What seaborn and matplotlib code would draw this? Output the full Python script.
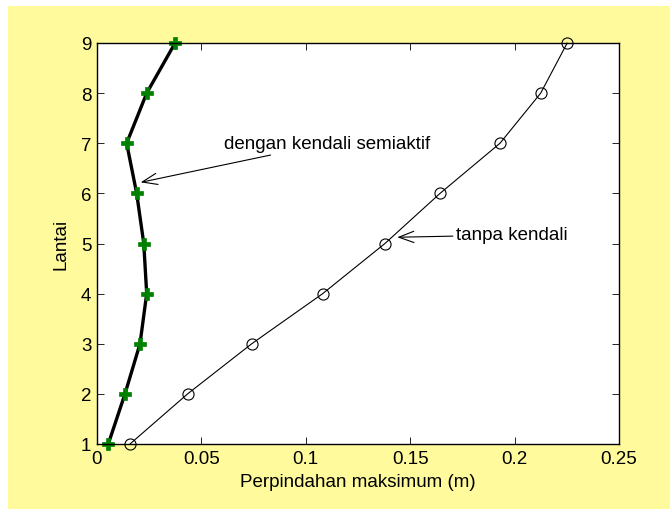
import matplotlib
matplotlib.use("Agg")
import matplotlib.pyplot as plt
from matplotlib.patches import Rectangle
import seaborn as sns
import pandas as pd

floors = [1, 2, 3, 4, 5, 6, 7, 8, 9]
semiaktif = [0.0054, 0.0134, 0.0206, 0.0238, 0.0224, 0.0190, 0.0142, 0.0238, 0.0374]
tanpa = [0.0158, 0.0434, 0.0741, 0.1081, 0.1379, 0.1643, 0.1930, 0.2125, 0.2252]
xticks = [0, 0.05, 0.1, 0.15, 0.2, 0.25]
xticklabels = ["0", "0.05", "0.1", "0.15", "0.2", "0.25"]
yticks = floors

sns.set_style("ticks")
plt.rcParams["font.family"] = ["Liberation Sans", "DejaVu Sans"]
plt.rcParams["text.color"] = "black"
plt.rcParams["axes.labelcolor"] = "black"
plt.rcParams["xtick.direction"] = "in"
plt.rcParams["ytick.direction"] = "in"

FS = 13.5

fig = plt.figure(figsize=(6.7, 5.1), dpi=100, facecolor="white")
fig.patches.append(Rectangle((8 / 670, 0), 1 - 8 / 670, 1 - 7 / 510,
                             transform=fig.transFigure, facecolor="#FFFB9C",
                             edgecolor="none", zorder=-10))
ax = fig.add_axes([97 / 670, 65 / 510, 522 / 670, 401 / 510])
ax.set_zorder(1)
ax.set_facecolor("white")

df_t = pd.DataFrame({"x": tanpa, "y": floors})
df_s = pd.DataFrame({"x": semiaktif, "y": floors})

sns.lineplot(data=df_t, x="x", y="y", sort=False, estimator=None, ax=ax,
             color="black", linewidth=0.8, marker="o", markersize=8,
             markerfacecolor="none", markeredgecolor="black",
             markeredgewidth=0.8, clip_on=False)
sns.lineplot(data=df_s, x="x", y="y", sort=False, estimator=None, ax=ax,
             color="black", linewidth=2.4, marker="P", markersize=8,
             markerfacecolor="#008000", markeredgecolor="#008000",
             markeredgewidth=0.5, clip_on=False)

ax.set_xlim(0, 0.25)
ax.set_ylim(1, 9)
ax.set_xticks(xticks)
ax.set_xticklabels(xticklabels)
ax.set_yticks(yticks)
ax.tick_params(axis="both", which="both", direction="in", length=5, width=0.6,
               labelsize=FS, top=True, right=True, colors="black", pad=4)
for s in ax.spines.values():
    s.set_visible(True)
    s.set_linewidth(1.0)
    s.set_color("black")

ax.set_xlabel("Perpindahan maksimum (m)", fontsize=FS, labelpad=5, color="black")
ax.set_ylabel("Lantai", fontsize=FS, labelpad=8, color="black")

arrowprops = dict(arrowstyle="->,head_length=0.8,head_width=0.3", color="black",
                  linewidth=0.8, shrinkA=0, shrinkB=0)
ax.annotate("dengan kendali semiaktif", xy=(0.0209, 6.22), xytext=(0.0606, 7.0),
            fontsize=FS, va="center", ha="left", color="black",
            arrowprops=arrowprops)
ax.annotate("tanpa kendali", xy=(0.1438, 5.125), xytext=(0.1720, 5.17),
            fontsize=FS, va="center", ha="left", color="black",
            arrowprops=arrowprops)

fig.savefig("out.png", dpi=100, facecolor=fig.get_facecolor())
